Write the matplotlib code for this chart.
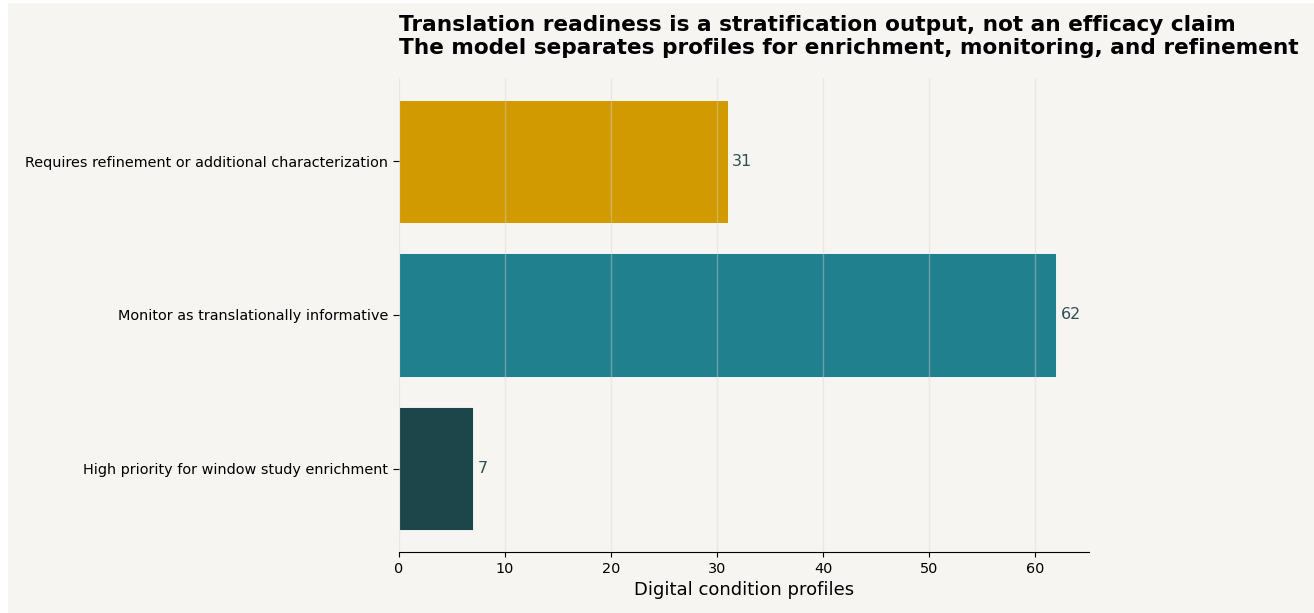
import matplotlib
matplotlib.use("Agg")
import matplotlib.pyplot as plt
from matplotlib.patches import Rectangle

# readiness tiers, bottom to top
categories = [
    "High priority for window study enrichment",
    "Monitor as translationally informative",
    "Requires refinement or additional characterization",
]
counts = [7, 62, 31]
colors = ["#1d464b", "#21808d", "#d19a00"]

bg = "#f7f5f2"

fig = plt.figure(figsize=(13.14, 6.13), dpi=100, facecolor="white")
# panel background, leaving a thin white margin on the left and top
fig.patches.append(Rectangle((8 / 1314, 0), 1 - 8 / 1314, 1 - 3 / 613,
                             transform=fig.transFigure, facecolor=bg,
                             edgecolor="none", zorder=-1))
ax = fig.add_axes([0.3037, 0.0995, 0.5251, 0.7733])
ax.set_facecolor(bg)

ypos = range(len(categories))
ax.barh(ypos, counts, height=0.8, color=colors, edgecolor="#ffffff",
        linewidth=0.6, zorder=1)
ax.set_yticks(list(ypos))
ax.set_yticklabels(categories, fontsize=10.4)
ax.set_xlim(0, 65.1)

for y, v in zip(ypos, counts):
    ax.text(v + 0.4, y, str(v), va="center", ha="left", fontsize=11.5, color="#2f4f55")

ax.grid(axis="x", color="#d6d6d6", alpha=0.4, linewidth=1, zorder=2)
ax.set_axisbelow(False)
for s in ["top", "right", "left"]:
    ax.spines[s].set_visible(False)
ax.tick_params(axis="y", length=4, pad=4)
ax.tick_params(axis="x", labelsize=10.4)
ax.set_xlabel("Digital condition profiles", fontsize=13)

ax.set_title(
    "Translation readiness is a stratification output, not an efficacy claim\n"
    "The model separates profiles for enrichment, monitoring, and refinement",
    loc="left", fontsize=15.6, fontweight="bold", pad=17,
)

fig.savefig("out.png", dpi=100)
